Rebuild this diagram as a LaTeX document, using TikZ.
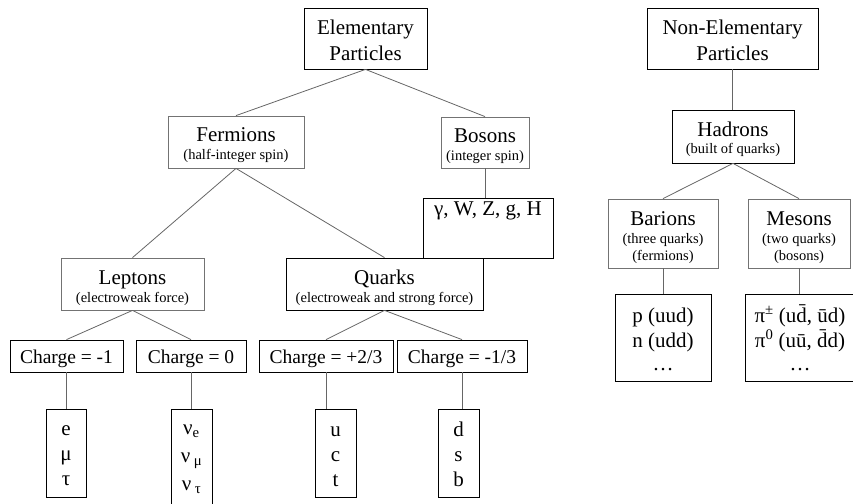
\documentclass[tikz,border=0pt]{standalone}
\usepackage{fontspec}
\setmainfont{Liberation Serif}
\begin{document}
\begin{tikzpicture}[x=1pt,y=-1pt,
    box/.style={draw=black,line width=0.8pt,inner sep=0pt,align=center,
        font=\fontsize{21}{26}\selectfont},
    greybox/.style={box,draw=black!55},
    chargebox/.style={box,font=\fontsize{19.5}{24}\selectfont,text height=23,text depth=9},
    link/.style={draw=black!60,line width=0.8pt}]
    %% small text inside the boxes
    \newcommand{\smalltext}[1]{{\fontsize{14.5}{17}\selectfont #1}}
    \useasboundingbox (0,0) rectangle (853,503);

    %% elementary particles
    \node[box,minimum width=123,text height=52,text depth=9] (elem) at (365.5,38.5) {Elementary\\Particles};
    \node[greybox,minimum width=136,text height=43,text depth=9] (ferm) at (236,142) {Fermions\\[-8pt]\smalltext{(half-integer spin)}};
    \node[greybox,minimum width=88,text height=43,text depth=8] (boson) at (485,142.5) {Bosons\\[-8pt]\smalltext{(integer spin)}};
    \node[box,minimum width=130,text height=17,text depth=43] (gauge) at (488,228) {γ, W, Z, g, H};
    \node[greybox,minimum width=143,text height=44,text depth=8] (lept) at (132.5,284) {Leptons\\[-8pt]\smalltext{(electroweak force)}};
    \node[box,minimum width=197,text height=44,text depth=8] (quark) at (384.5,284) {Quarks\\[-8pt]\smalltext{(electroweak and strong force)}};

    %% charges
    \node[chargebox,minimum width=113] (chmone) at (66.5,356) {Charge = -1};
    \node[chargebox,minimum width=110] (chzero) at (191,356) {Charge = 0};
    \node[chargebox,minimum width=134] (chtwothirds) at (326,356) {Charge = +2/3};
    \node[chargebox,minimum width=130] (chonethird) at (462,356) {Charge = -1/3};

    %% particles of each charge
    \node[box,minimum width=40,text height=76,text depth=12] (lepcharged) at (66,453) {e\\[-1pt]μ\\[-1pt]τ};
    \node[box,minimum width=41,text height=81,text depth=25] (neutrino) at (191.5,462) {ν\textsubscript{e}\\[2pt]ν\,\textsubscript{μ}\\[2pt]ν\,\textsubscript{τ}};
    \node[box,minimum width=41,text height=77,text depth=11] (upquark) at (335.5,453) {u\\[-1pt]c\\[-1pt]t};
    \node[box,minimum width=41,text height=77,text depth=11] (downquark) at (458.5,453) {d\\[-1pt]s\\[-1pt]b};

    %% non-elementary particles
    \node[box,minimum width=171,text height=52,text depth=9] (nonelem) at (732.5,38.5) {Non-Elementary\\Particles};
    \node[box,minimum width=122,text height=43,text depth=10] (hadr) at (733,136.5) {Hadrons\\[-9pt]\smalltext{(built of quarks)}};
    \node[greybox,minimum width=110,text height=61,text depth=8] (bar) at (663,233.5) {Barions\\[-8pt]\smalltext{(three quarks)}\\[-9pt]\smalltext{(fermions)}};
    \node[greybox,minimum width=102,text height=61,text depth=8] (mes) at (799,233.5) {Mesons\\[-8pt]\smalltext{(two quarks)}\\[-9pt]\smalltext{(bosons)}};
    \node[box,minimum width=96,text height=76,text depth=11] (barex) at (663,337.5) {p (uud)\\[-1pt]n (udd)\\[-3pt]\dots};
    \node[box,minimum width=110,text height=76,text depth=11] (mesex) at (800,337.5) {π\textsuperscript{±} (u\=d, \=ud)\\[-1pt]π\textsuperscript{0} (u\=u, \=dd)\\[-3pt]\dots};

    %% connections
    \draw[link] (elem.south) -- (ferm.north);
    \draw[link] (elem.south) -- (boson.north);
    \draw[link] (ferm.south) -- (lept.north);
    \draw[link] (ferm.south) -- (quark.north);
    \draw[link] (lept.south) -- (chmone.north);
    \draw[link] (lept.south) -- (chzero.north);
    \draw[link] (quark.south) -- (chtwothirds.north);
    \draw[link] (quark.south) -- (chonethird.north);
    \draw[link] (hadr.south) -- (bar.north);
    \draw[link] (hadr.south) -- (mes.north);
    \foreach \a/\b in {boson/gauge, chmone/lepcharged, chzero/neutrino,
        chtwothirds/upquark, chonethird/downquark, nonelem/hadr,
        bar/barex, mes/mesex}
        \draw[link] (\a.south) -- (\a.south |- \b.north);
\end{tikzpicture}
\end{document}
